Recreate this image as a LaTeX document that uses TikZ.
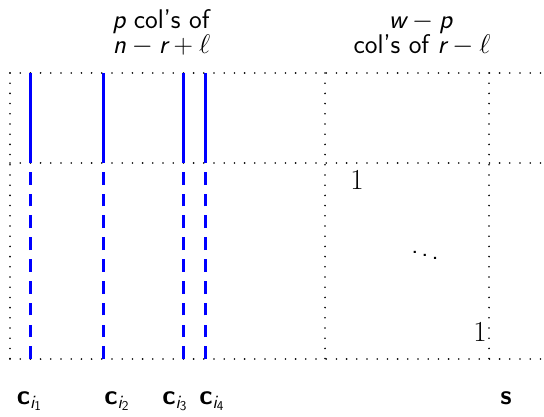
\documentclass[tikz,border=0pt]{standalone}
\usepackage{fix-cm}
\usepackage{fontspec}
\setmainfont{Latin Modern Sans}
\newfontfamily\lmroman{Latin Modern Roman}
\begin{document}
\begin{tikzpicture}[x=1pt,y=-1pt,
  font=\fontsize{27}{30}\selectfont,
  gridline/.style={line width=1.8pt, line cap=round, dash pattern=on 0pt off 10.2pt},
  colsolid/.style={blue, line width=2.8pt},
  coldash/.style={blue, line width=2.8pt, dash pattern=on 12.7pt off 9.1pt},
  lbl/.style={anchor=base, inner sep=0pt},
  entry/.style={anchor=base, inner sep=0pt, font=\fontsize{29}{30}\lmroman}]
\useasboundingbox (0,0) rectangle (544,417);
% grid corners
\coordinate (tl) at (10,73);  \coordinate (tr) at (544,73);
\coordinate (ml) at (10,163); \coordinate (mr) at (544,163);
\coordinate (bl) at (10,359); \coordinate (br) at (544,359);
\coordinate (c1t) at (325,73); \coordinate (c1b) at (325,359);
\coordinate (c2t) at (489,73); \coordinate (c2b) at (489,359);
\draw[gridline] (tl) -- (tr);
\draw[gridline] (ml) -- (mr);
\draw[gridline] (bl) -- (br);
\draw[gridline] (tl) -- (bl);
\draw[gridline] (c1t) -- (c1b);
\draw[gridline] (c2t) -- (c2b);
% blue columns
\foreach \n/\x in {a/30.7, b/103.7, c/183.7, d/205.3}{
  \coordinate (\n t) at (\x,73);
  \coordinate (\n m) at (\x,163);
  \coordinate (\n b) at (\x,359);
  \draw[colsolid] (\n t) -- (\n m);
  \draw[coldash] (\n b) -- (\n m);
}
% headers
\node[lbl] (h1) at (161,29) {$\mathit{p}$ col's of};
\node[lbl] (h2) at (161.5,54) {$\mathit{n}-\mathit{r}+\ell$};
\node[lbl] (h3) at (420.5,29) {$\mathit{w}-\mathit{p}$};
\node[lbl] (h4) at (422,54) {col's of $\mathit{r}-\ell$};
% entries
\node[entry] (one1) at (357,189.5) {1};
\node[entry] (one2) at (480,341) {1};
\node (dd) at (425,252) {$\ddots$};
% column labels
\node[lbl] (l1) at (29.5,404) {$\mathbf{c}_{\mathit{i}_{\mathrm{1}}}$};
\node[lbl] (l2) at (117,404) {$\mathbf{c}_{\mathit{i}_{\mathrm{2}}}$};
\node[lbl] (l3) at (175,404) {$\mathbf{c}_{\mathit{i}_{\mathrm{3}}}$};
\node[lbl] (l4) at (212,404) {$\mathbf{c}_{\mathit{i}_{\mathrm{4}}}$};
\node[lbl] (ls) at (506,404) {$\mathbf{s}$};
\end{tikzpicture}
\end{document}
